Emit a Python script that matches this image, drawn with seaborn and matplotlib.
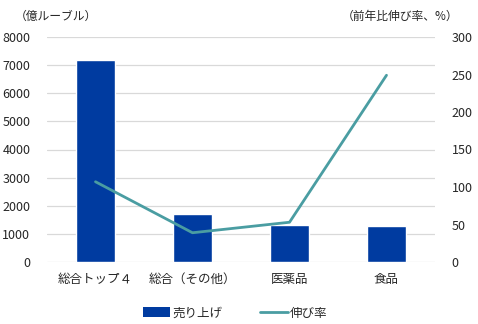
import matplotlib
matplotlib.use("Agg")
import matplotlib.pyplot as plt
import seaborn as sns
import numpy as np
import pandas as pd
from matplotlib.patches import Patch
from matplotlib.lines import Line2D

categories = ["総合トップ４", "総合（その他）", "医薬品", "食品"]
sales = [7200, 1710, 1320, 1280]
growth = [107, 39, 53, 249]
left_ticks = [0, 1000, 2000, 3000, 4000, 5000, 6000, 7000, 8000]
right_ticks = [0, 50, 100, 150, 200, 250, 300]

sns.set_theme(style="white")
plt.rcParams['font.family'] = ['Noto Sans CJK JP', 'DejaVu Sans']

bar_color = "#003BA0"
line_color = "#4A9DA2"
text_color = "#262626"

df = pd.DataFrame({"cat": categories, "sales": sales})

fig = plt.figure(figsize=(4.78, 3.24), dpi=100)
ax = fig.add_axes([47/478, 1-262/324, (435-47)/478, (262-37)/324])
sns.barplot(data=df, x="cat", y="sales", color=bar_color, saturation=1, width=0.4, ax=ax)
ax.set_ylim(0, 8000)
ax.set_yticks(left_ticks)
ax.set_xlim(-0.5, 3.5)
ax.set_xlabel("")
ax.set_ylabel("")
ax.grid(axis="y", color="#d9d9d9", linewidth=0.9)
ax.set_axisbelow(True)
for s in ax.spines.values():
    s.set_visible(False)
ax.tick_params(axis="y", length=0, pad=12, labelsize=9, labelcolor=text_color)
ax.tick_params(axis="x", length=0, pad=8, labelsize=9, labelcolor=text_color)

ax2 = ax.twinx()
ax2.plot(np.arange(len(categories)), growth, color=line_color, linewidth=2.0)
ax2.set_ylim(0, 300)
ax2.set_yticks(right_ticks)
ax2.grid(False)
for s in ax2.spines.values():
    s.set_visible(False)
ax2.tick_params(axis="y", length=0, pad=12, labelsize=9, labelcolor=text_color)

fig.text(15/478, 1-16/324, "（億ルーブル）", fontsize=8.5, color=text_color, va="center", ha="left")
fig.text(458/478, 1-16/324, "（前年比伸び率、%）", fontsize=8.5, color=text_color, va="center", ha="right")

handles = [Patch(facecolor=bar_color, edgecolor="none"), Line2D([0], [0], color=line_color, linewidth=2.0)]
fig.legend(handles, ["売り上げ", "伸び率"], loc="center", bbox_to_anchor=(235/478, 1-313/324),
           ncol=2, frameon=False, fontsize=9, handlelength=2.2, handleheight=0.9, handletextpad=0.2,
           columnspacing=3.0, labelcolor=text_color)

fig.savefig("out.png", dpi=100, facecolor="white")
